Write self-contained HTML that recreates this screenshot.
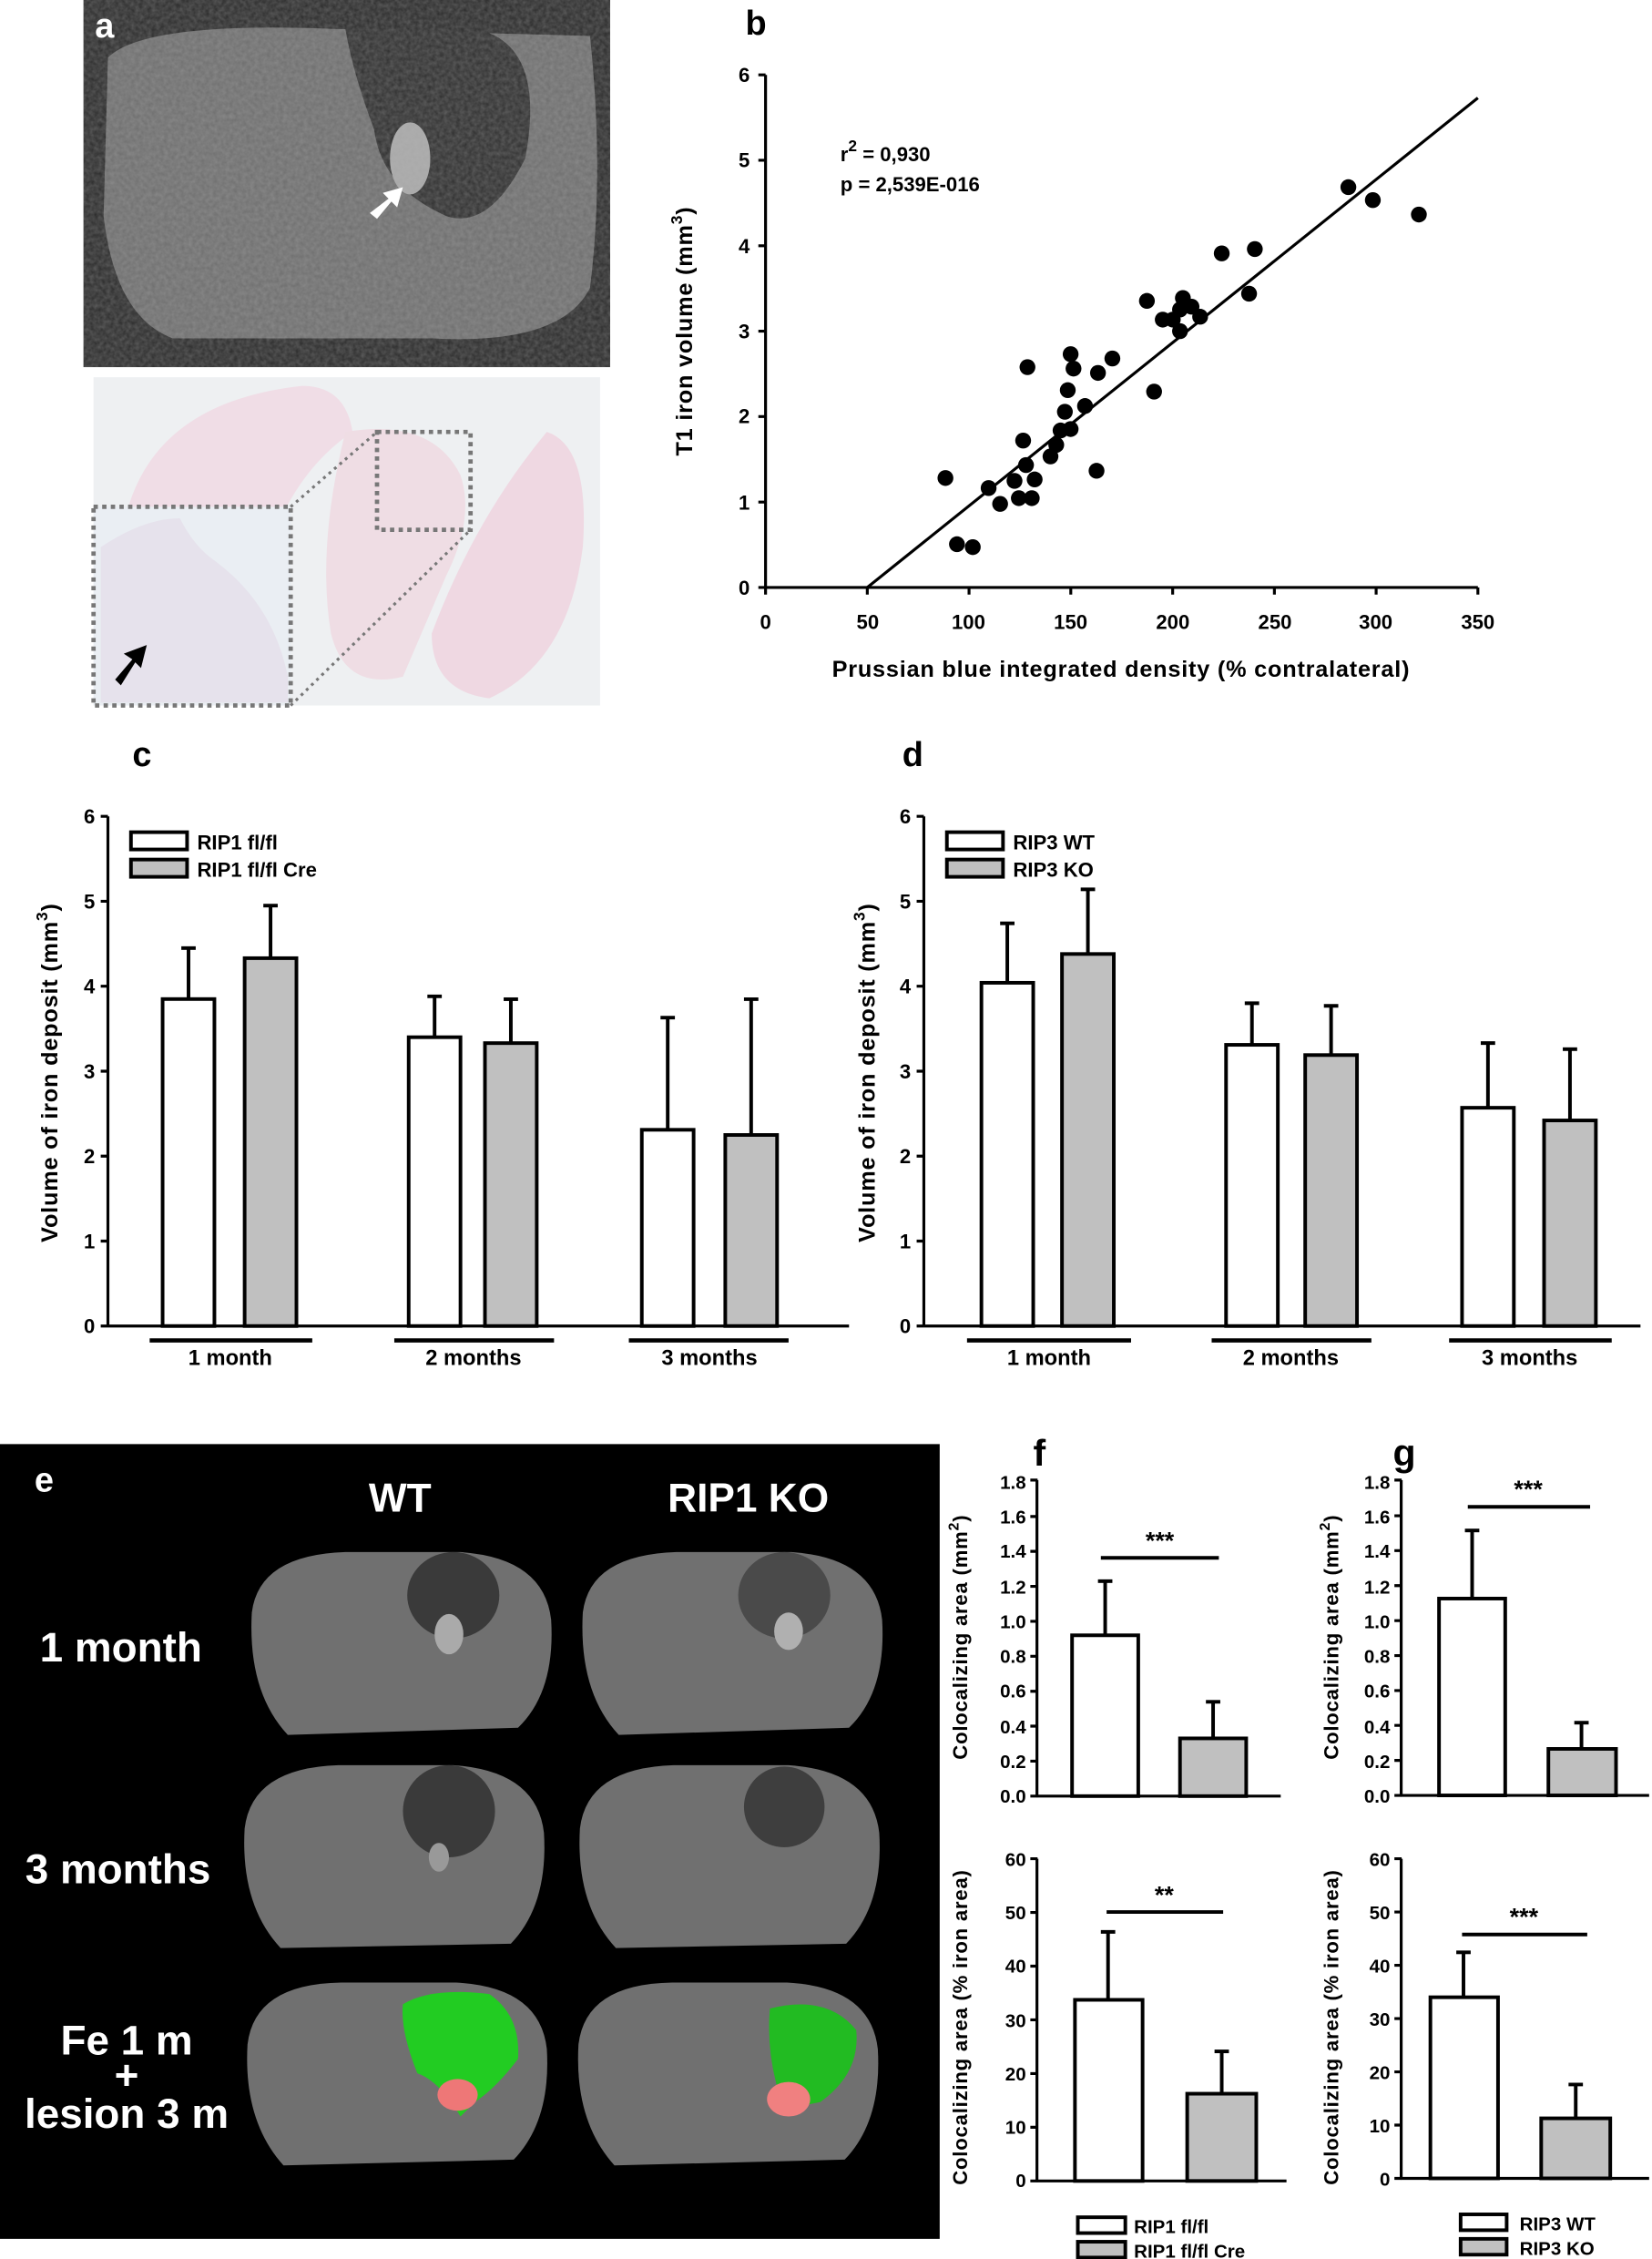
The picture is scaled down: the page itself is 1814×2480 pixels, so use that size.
<!DOCTYPE html>
<html><head><meta charset="utf-8"><style>html,body{margin:0;padding:0;background:#fff}svg{display:block}</style></head>
<body>
<svg xmlns="http://www.w3.org/2000/svg" width="1814" height="2480" viewBox="0 0 1148 1569" preserveAspectRatio="none" font-family="Liberation Sans, Arial, sans-serif" font-weight="bold">
<defs>
<filter id="noise" x="0" y="0" width="100%" height="100%"><feTurbulence type="fractalNoise" baseFrequency="0.35" numOctaves="2" seed="3"/><feColorMatrix type="matrix" values="0 0 0 0 0.5  0 0 0 0 0.5  0 0 0 0 0.5  0 0 0 0.35 0"/><feComposite in2="SourceGraphic" operator="in"/></filter>
</defs>
<rect width="1148" height="1569" fill="#fff"/>

<!-- Panel a MRI -->
<rect x="58" y="0" width="366" height="255" fill="#2a2a2a"/>
<path d="M75 40 Q100 15 230 20 L410 25 Q420 120 410 200 Q390 240 300 235 L120 235 Q80 220 72 150 Z" fill="#6e6e6e"/>
<path d="M240 20 L330 20 Q380 30 365 110 Q340 160 310 150 Q265 130 260 90 Q245 50 240 20Z" fill="#2e2e2e"/>
<ellipse cx="285" cy="110" rx="14" ry="25" fill="#a8a8a8"/>
<rect x="58" y="0" width="366" height="255" fill="#888" filter="url(#noise)"/>
<polygon points="257,148 270,138 266,134 280,130 276,144 272,140 262,152" fill="#fff"/>
<text x="66" y="26" font-size="24" fill="#fff">a</text>
<!-- histology -->
<rect x="65" y="262" width="352" height="228" fill="#eef0f2"/>
<path d="M85 370 Q100 280 210 268 Q240 268 245 300 Q200 330 180 400 Q150 440 110 430 Z" fill="#f0dde6"/>
<path d="M240 300 Q300 290 320 330 Q330 360 310 400 L280 470 Q240 480 230 440 Q220 380 240 300Z" fill="#efdde4"/>
<path d="M380 300 Q410 310 405 380 Q395 460 340 485 Q300 480 300 440 Q330 360 380 300Z" fill="#efd8e2"/>
<rect x="65" y="352" width="137" height="138" fill="#eaeef3" stroke="#777" stroke-width="3" stroke-dasharray="3,3"/>
<path d="M70 380 Q100 360 125 360 Q135 380 150 390 Q190 420 200 470 L200 488 L70 488Z" fill="#e6e2ec"/>
<rect x="262" y="300" width="65" height="68" fill="none" stroke="#777" stroke-width="3" stroke-dasharray="3,3"/>
<line x1="202" y1="352" x2="262" y2="300" stroke="#777" stroke-width="2" stroke-dasharray="2,3"/>
<line x1="202" y1="490" x2="327" y2="368" stroke="#777" stroke-width="2" stroke-dasharray="2,3"/>
<polygon points="80,472 92,458 86,454 102,448 98,464 94,460 84,476" fill="#000"/>

<!-- Panel b -->
<text x="518" y="24" font-size="24">b</text>
<g stroke="#000" stroke-width="2" fill="none">
<line x1="532" y1="52" x2="532" y2="408"/><line x1="532" y1="408" x2="1027" y2="408"/>
<path d="M527 408h5M527 348.7h5M527 289.3h5M527 230h5M527 170.7h5M527 111.3h5M527 52h5"/>
<path d="M532 408v5M602.7 408v5M673.4 408v5M744.1 408v5M814.9 408v5M885.6 408v5M956.3 408v5M1027 408v5"/>
<line x1="602.7" y1="408" x2="1027" y2="68"/>
</g>
<g font-size="14" text-anchor="end"><text x="521" y="413">0</text><text x="521" y="354">1</text><text x="521" y="294">2</text><text x="521" y="235">3</text><text x="521" y="176">4</text><text x="521" y="116">5</text><text x="521" y="57">6</text></g>
<g font-size="14" text-anchor="middle"><text x="532" y="437">0</text><text x="603" y="437">50</text><text x="673" y="437">100</text><text x="744" y="437">150</text><text x="815" y="437">200</text><text x="886" y="437">250</text><text x="956" y="437">300</text><text x="1027" y="437">350</text></g>
<text x="779" y="470" font-size="16" text-anchor="middle" letter-spacing="0.5">Prussian blue integrated density (% contralateral)</text>
<text transform="translate(481,230) rotate(-90)" font-size="16" text-anchor="middle" letter-spacing="0.5">T1 iron volume (mm<tspan font-size="11" dy="-7">3</tspan><tspan dy="7">)</tspan></text>
<text x="584" y="112" font-size="14">r<tspan font-size="11" dy="-7">2</tspan><tspan dy="7"> = 0,930</tspan></text>
<text x="584" y="133" font-size="14">p = 2,539E-016</text>
<g fill="#000">
<circle cx="657" cy="332" r="5.5"/><circle cx="665" cy="378" r="5.5"/><circle cx="676" cy="380" r="5.5"/><circle cx="687" cy="339" r="5.5"/><circle cx="695" cy="350" r="5.5"/><circle cx="705" cy="334" r="5.5"/><circle cx="713" cy="323" r="5.5"/><circle cx="708" cy="346" r="5.5"/><circle cx="714" cy="255" r="5.5"/><circle cx="711" cy="306" r="5.5"/><circle cx="719" cy="333" r="5.5"/><circle cx="717" cy="346" r="5.5"/><circle cx="730" cy="317" r="5.5"/><circle cx="734" cy="309" r="5.5"/><circle cx="737" cy="299" r="5.5"/><circle cx="740" cy="286" r="5.5"/><circle cx="742" cy="271" r="5.5"/><circle cx="746" cy="256" r="5.5"/><circle cx="744" cy="246" r="5.5"/><circle cx="754" cy="282" r="5.5"/><circle cx="763" cy="259" r="5.5"/><circle cx="762" cy="327" r="5.5"/><circle cx="773" cy="249" r="5.5"/><circle cx="797" cy="209" r="5.5"/><circle cx="802" cy="272" r="5.5"/><circle cx="808" cy="222" r="5.5"/><circle cx="815" cy="222" r="5.5"/><circle cx="820" cy="230" r="5.5"/><circle cx="822" cy="207" r="5.5"/><circle cx="828" cy="213" r="5.5"/><circle cx="834" cy="220" r="5.5"/><circle cx="849" cy="176" r="5.5"/><circle cx="868" cy="204" r="5.5"/><circle cx="872" cy="173" r="5.5"/><circle cx="937" cy="130" r="5.5"/><circle cx="954" cy="139" r="5.5"/><circle cx="986" cy="149" r="5.5"/><circle cx="820" cy="215" r="5.5"/><circle cx="744" cy="298" r="5.5"/>
</g>

<!-- Panel c -->
<text x="92" y="532" font-size="24">c</text>
<g stroke="#000" stroke-width="2" fill="none">
<line x1="75" y1="567" x2="75" y2="921"/><line x1="75" y1="921" x2="590" y2="921"/>
<path d="M70 921h5M70 862h5M70 803h5M70 744h5M70 685h5M70 626h5M70 567h5"/>
</g>
<g font-size="14" text-anchor="end"><text x="66" y="926">0</text><text x="66" y="867">1</text><text x="66" y="808">2</text><text x="66" y="749">3</text><text x="66" y="690">4</text><text x="66" y="631">5</text><text x="66" y="572">6</text></g>
<text transform="translate(40,745) rotate(-90)" font-size="16" text-anchor="middle" letter-spacing="0.5">Volume of iron deposit (mm<tspan font-size="11" dy="-7">3</tspan><tspan dy="7">)</tspan></text>
<g stroke="#000" stroke-width="2.5">
<line x1="131" y1="694" x2="131" y2="658.5"/><line x1="126" y1="658.5" x2="136" y2="658.5"/>
<line x1="188" y1="665.5" x2="188" y2="629"/><line x1="183" y1="629" x2="193" y2="629"/>
<line x1="302" y1="720.4" x2="302" y2="692"/><line x1="297" y1="692" x2="307" y2="692"/>
<line x1="355" y1="724.5" x2="355" y2="694"/><line x1="350" y1="694" x2="360" y2="694"/>
<line x1="464" y1="784.7" x2="464" y2="706.8"/><line x1="459" y1="706.8" x2="469" y2="706.8"/>
<line x1="522" y1="788.3" x2="522" y2="694"/><line x1="517" y1="694" x2="527" y2="694"/>
<rect x="113" y="693.9" width="36" height="227.1" fill="#fff"/>
<rect x="170" y="665.5" width="36" height="255.5" fill="#c0c0c0"/>
<rect x="284" y="720.4" width="36" height="200.6" fill="#fff"/>
<rect x="337" y="724.5" width="36" height="196.5" fill="#c0c0c0"/>
<rect x="446" y="784.7" width="36" height="136.3" fill="#fff"/>
<rect x="504" y="788.3" width="36" height="132.7" fill="#c0c0c0"/>
<line x1="104" y1="931" x2="217" y2="931" stroke-width="3"/><line x1="274" y1="931" x2="385" y2="931" stroke-width="3"/><line x1="437" y1="931" x2="548" y2="931" stroke-width="3"/>
<rect x="91" y="578" width="39" height="12" fill="#fff"/><rect x="91" y="597" width="39" height="12" fill="#c0c0c0"/>
</g>
<g font-size="14"><text x="137" y="590">RIP1 fl/fl</text><text x="137" y="609">RIP1 fl/fl Cre</text></g>
<g font-size="15" text-anchor="middle"><text x="160" y="948">1 month</text><text x="329" y="948">2 months</text><text x="493" y="948">3 months</text></g>

<!-- Panel d -->
<text x="627" y="532" font-size="24">d</text>
<g stroke="#000" stroke-width="2" fill="none">
<line x1="642" y1="567" x2="642" y2="921"/><line x1="642" y1="921" x2="1140" y2="921"/>
<path d="M637 921h5M637 862h5M637 803h5M637 744h5M637 685h5M637 626h5M637 567h5"/>
</g>
<g font-size="14" text-anchor="end"><text x="633" y="926">0</text><text x="633" y="867">1</text><text x="633" y="808">2</text><text x="633" y="749">3</text><text x="633" y="690">4</text><text x="633" y="631">5</text><text x="633" y="572">6</text></g>
<text transform="translate(608,745) rotate(-90)" font-size="16" text-anchor="middle" letter-spacing="0.5">Volume of iron deposit (mm<tspan font-size="11" dy="-7">3</tspan><tspan dy="7">)</tspan></text>
<g stroke="#000" stroke-width="2.5">
<line x1="700" y1="682.6" x2="700" y2="641.3"/><line x1="695" y1="641.3" x2="705" y2="641.3"/>
<line x1="756" y1="662.6" x2="756" y2="617.7"/><line x1="751" y1="617.7" x2="761" y2="617.7"/>
<line x1="870" y1="725.7" x2="870" y2="696.8"/><line x1="865" y1="696.8" x2="875" y2="696.8"/>
<line x1="925" y1="732.8" x2="925" y2="698.6"/><line x1="920" y1="698.6" x2="930" y2="698.6"/>
<line x1="1034" y1="769.4" x2="1034" y2="724.5"/><line x1="1029" y1="724.5" x2="1039" y2="724.5"/>
<line x1="1091" y1="778.2" x2="1091" y2="728.7"/><line x1="1086" y1="728.7" x2="1096" y2="728.7"/>
<rect x="682" y="682.6" width="36" height="238.4" fill="#fff"/>
<rect x="738" y="662.6" width="36" height="258.4" fill="#c0c0c0"/>
<rect x="852" y="725.7" width="36" height="195.3" fill="#fff"/>
<rect x="907" y="732.8" width="36" height="188.2" fill="#c0c0c0"/>
<rect x="1016" y="769.4" width="36" height="151.6" fill="#fff"/>
<rect x="1073" y="778.2" width="36" height="142.8" fill="#c0c0c0"/>
<line x1="672" y1="931" x2="786" y2="931" stroke-width="3"/><line x1="842" y1="931" x2="953" y2="931" stroke-width="3"/><line x1="1007" y1="931" x2="1120" y2="931" stroke-width="3"/>
<rect x="658" y="578" width="39" height="12" fill="#fff"/><rect x="658" y="597" width="39" height="12" fill="#c0c0c0"/>
</g>
<g font-size="14"><text x="704" y="590">RIP3 WT</text><text x="704" y="609">RIP3 KO</text></g>
<g font-size="15" text-anchor="middle"><text x="729" y="948">1 month</text><text x="897" y="948">2 months</text><text x="1063" y="948">3 months</text></g>

<!-- Panel e -->
<rect x="0" y="1003" width="653" height="552" fill="#000"/>
<text x="24" y="1036" font-size="24" fill="#fff">e</text>
<text x="278" y="1050" font-size="28" fill="#fff" text-anchor="middle">WT</text>
<text x="520" y="1050" font-size="28" fill="#fff" text-anchor="middle">RIP1 KO</text>
<g font-size="29" fill="#fff" text-anchor="middle">
<text x="84" y="1154">1 month</text><text x="82" y="1308">3 months</text><text x="88" y="1427">Fe 1 m</text><text x="88" y="1451">+</text><text x="88" y="1478">lesion 3 m</text>
</g>
<g>
<path d="M175 1120 Q180 1080 240 1078 L320 1078 Q378 1082 383 1125 Q386 1175 360 1200 L200 1205 Q172 1175 175 1120Z" fill="#707070"/>
<ellipse cx="315" cy="1108" rx="32" ry="30" fill="#3a3a3a"/><ellipse cx="312" cy="1135" rx="10" ry="14" fill="#aaa"/>
<path d="M405 1120 Q410 1080 470 1078 L550 1078 Q608 1082 613 1125 Q616 1175 590 1200 L430 1205 Q402 1175 405 1120Z" fill="#707070"/>
<ellipse cx="545" cy="1108" rx="32" ry="30" fill="#4a4a4a"/><ellipse cx="548" cy="1133" rx="10" ry="13" fill="#b0b0b0"/>
<path d="M170 1270 Q175 1228 235 1226 L315 1226 Q373 1230 378 1273 Q381 1323 355 1350 L195 1353 Q167 1323 170 1270Z" fill="#707070"/>
<ellipse cx="312" cy="1258" rx="32" ry="32" fill="#3a3a3a"/><ellipse cx="305" cy="1290" rx="7" ry="10" fill="#999"/>
<path d="M403 1270 Q408 1228 468 1226 L548 1226 Q606 1230 611 1273 Q614 1323 588 1350 L428 1353 Q400 1323 403 1270Z" fill="#707070"/>
<ellipse cx="545" cy="1255" rx="28" ry="28" fill="#3e3e3e"/>
<path d="M172 1420 Q177 1378 237 1377 L317 1377 Q375 1380 380 1423 Q383 1473 357 1500 L197 1504 Q169 1473 172 1420Z" fill="#707070"/>
<path d="M280 1392 Q300 1380 340 1385 Q362 1400 360 1430 Q345 1450 330 1460 L320 1470 Q305 1445 290 1440 Q278 1410 280 1392Z" fill="#22cc22"/>
<ellipse cx="318" cy="1455" rx="14" ry="11" fill="#ee7777"/>
<path d="M402 1420 Q407 1378 467 1377 L547 1377 Q605 1380 610 1423 Q613 1473 587 1500 L427 1504 Q399 1473 402 1420Z" fill="#707070"/>
<path d="M535 1395 Q575 1385 595 1410 Q598 1440 570 1460 L545 1465 Q532 1430 535 1395Z" fill="#22bb22"/>
<ellipse cx="548" cy="1458" rx="15" ry="12" fill="#f08080"/>
</g>

<!-- Panel f top -->
<text x="718" y="1018" font-size="26">f</text>
<g stroke="#000" stroke-width="2" fill="none">
<line x1="720.6" y1="1028" x2="720.6" y2="1247.5"/><line x1="720.6" y1="1247.5" x2="890" y2="1247.5"/>
<path d="M716 1247.5h5M716 1223.2h5M716 1198.9h5M716 1174.7h5M716 1150.4h5M716 1126.1h5M716 1101.8h5M716 1077.5h5M716 1053.3h5M716 1028h5"/>
</g>
<g font-size="13" text-anchor="end"><text x="713" y="1252">0.0</text><text x="713" y="1228">0.2</text><text x="713" y="1204">0.4</text><text x="713" y="1179">0.6</text><text x="713" y="1155">0.8</text><text x="713" y="1131">1.0</text><text x="713" y="1107">1.2</text><text x="713" y="1082">1.4</text><text x="713" y="1058">1.6</text><text x="713" y="1034">1.8</text></g>
<text transform="translate(672,1137) rotate(-90)" font-size="14" text-anchor="middle" letter-spacing="0.5">Colocalizing area (mm<tspan font-size="10" dy="-6">2</tspan><tspan dy="6">)</tspan></text>
<g stroke="#000" stroke-width="2.5">
<line x1="768" y1="1135.8" x2="768" y2="1098.2"/><line x1="763" y1="1098.2" x2="773" y2="1098.2"/>
<line x1="843" y1="1207.4" x2="843" y2="1182"/><line x1="838" y1="1182" x2="848" y2="1182"/>
<rect x="745" y="1135.8" width="46" height="111.7" fill="#fff"/>
<rect x="820" y="1207.4" width="46" height="40.1" fill="#c0c0c0"/>
<line x1="765" y1="1082" x2="847" y2="1082"/>
</g>
<text x="806" y="1076" font-size="17" text-anchor="middle">***</text>

<!-- f bottom -->
<g stroke="#000" stroke-width="2" fill="none">
<line x1="720.6" y1="1291" x2="720.6" y2="1514.8"/><line x1="720.6" y1="1514.8" x2="894" y2="1514.8"/>
<path d="M716 1514.8h5M716 1477.5h5M716 1440.2h5M716 1402.9h5M716 1365.6h5M716 1328.3h5M716 1291h5"/>
</g>
<g font-size="13" text-anchor="end"><text x="713" y="1519">0</text><text x="713" y="1482">10</text><text x="713" y="1445">20</text><text x="713" y="1408">30</text><text x="713" y="1370">40</text><text x="713" y="1333">50</text><text x="713" y="1296">60</text></g>
<text transform="translate(672,1408) rotate(-90)" font-size="14" text-anchor="middle" letter-spacing="0.5">Colocalizing area (% iron area)</text>
<g stroke="#000" stroke-width="2.5">
<line x1="770" y1="1389" x2="770" y2="1341.8"/><line x1="765" y1="1341.8" x2="775" y2="1341.8"/>
<line x1="849" y1="1454.2" x2="849" y2="1424.8"/><line x1="844" y1="1424.8" x2="854" y2="1424.8"/>
<rect x="747" y="1389" width="47" height="125.8" fill="#fff"/>
<rect x="825" y="1454.2" width="48" height="60.6" fill="#c0c0c0"/>
<line x1="769" y1="1328" x2="850" y2="1328"/>
<rect x="749" y="1540" width="33" height="11" fill="#fff"/><rect x="749" y="1557" width="33" height="11" fill="#c0c0c0"/>
</g>
<text x="809" y="1322" font-size="17" text-anchor="middle">**</text>
<g font-size="13"><text x="788" y="1551">RIP1 fl/fl</text><text x="788" y="1568">RIP1 fl/fl Cre</text></g>

<!-- g top -->
<text x="968" y="1018" font-size="26">g</text>
<g stroke="#000" stroke-width="2" fill="none">
<line x1="973.7" y1="1028" x2="973.7" y2="1247"/><line x1="973.7" y1="1247" x2="1146" y2="1247"/>
<path d="M969 1247h5M969 1222.7h5M969 1198.4h5M969 1174.2h5M969 1149.9h5M969 1125.6h5M969 1101.3h5M969 1077h5M969 1052.8h5M969 1028h5"/>
</g>
<g font-size="13" text-anchor="end"><text x="966" y="1252">0.0</text><text x="966" y="1228">0.2</text><text x="966" y="1204">0.4</text><text x="966" y="1179">0.6</text><text x="966" y="1155">0.8</text><text x="966" y="1131">1.0</text><text x="966" y="1107">1.2</text><text x="966" y="1082">1.4</text><text x="966" y="1058">1.6</text><text x="966" y="1034">1.8</text></g>
<text transform="translate(930,1137) rotate(-90)" font-size="14" text-anchor="middle" letter-spacing="0.5">Colocalizing area (mm<tspan font-size="10" dy="-6">2</tspan><tspan dy="6">)</tspan></text>
<g stroke="#000" stroke-width="2.5">
<line x1="1023" y1="1110.3" x2="1023" y2="1063"/><line x1="1018" y1="1063" x2="1028" y2="1063"/>
<line x1="1099" y1="1214.7" x2="1099" y2="1196.5"/><line x1="1094" y1="1196.5" x2="1104" y2="1196.5"/>
<rect x="1000" y="1110.3" width="46" height="136.7" fill="#fff"/>
<rect x="1076" y="1214.7" width="47" height="32.3" fill="#c0c0c0"/>
<line x1="1020" y1="1046.6" x2="1105" y2="1046.6"/>
</g>
<text x="1062" y="1040" font-size="17" text-anchor="middle">***</text>

<!-- g bottom -->
<g stroke="#000" stroke-width="2" fill="none">
<line x1="973.7" y1="1291" x2="973.7" y2="1513"/><line x1="973.7" y1="1513" x2="1146" y2="1513"/>
<path d="M969 1513h5M969 1476h5M969 1439h5M969 1402h5M969 1365h5M969 1328h5M969 1291h5"/>
</g>
<g font-size="13" text-anchor="end"><text x="966" y="1518">0</text><text x="966" y="1481">10</text><text x="966" y="1444">20</text><text x="966" y="1407">30</text><text x="966" y="1370">40</text><text x="966" y="1333">50</text><text x="966" y="1296">60</text></g>
<text transform="translate(930,1408) rotate(-90)" font-size="14" text-anchor="middle" letter-spacing="0.5">Colocalizing area (% iron area)</text>
<g stroke="#000" stroke-width="2.5">
<line x1="1017" y1="1387.2" x2="1017" y2="1356"/><line x1="1012" y1="1356" x2="1022" y2="1356"/>
<line x1="1095" y1="1471.3" x2="1095" y2="1447.8"/><line x1="1090" y1="1447.8" x2="1100" y2="1447.8"/>
<rect x="994" y="1387.2" width="47" height="125.8" fill="#fff"/>
<rect x="1071" y="1471.3" width="48" height="41.7" fill="#c0c0c0"/>
<line x1="1016" y1="1343.6" x2="1103" y2="1343.6"/>
<rect x="1015" y="1538" width="32" height="11" fill="#fff"/><rect x="1015" y="1555" width="32" height="11" fill="#c0c0c0"/>
</g>
<text x="1059" y="1337" font-size="17" text-anchor="middle">***</text>
<g font-size="13"><text x="1056" y="1549">RIP3 WT</text><text x="1056" y="1566">RIP3 KO</text></g>
</svg>
</body></html>
